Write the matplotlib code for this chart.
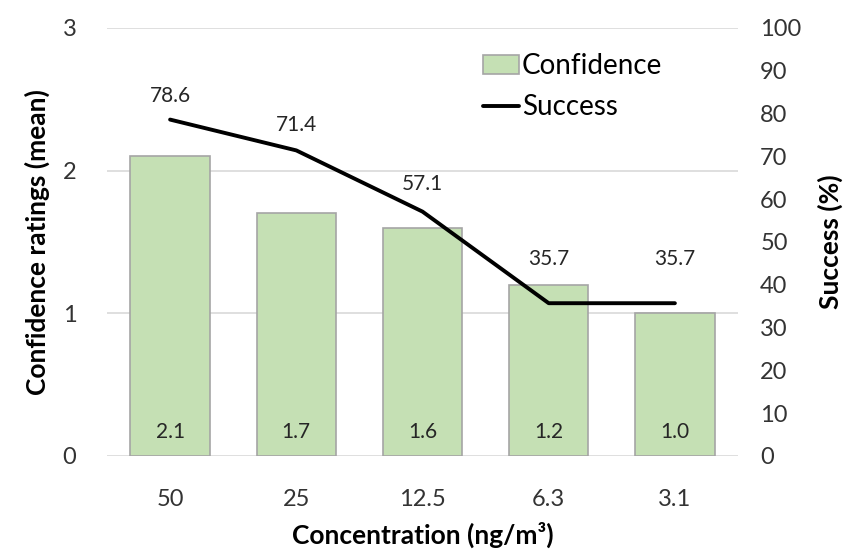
import matplotlib
matplotlib.use("Agg")
import matplotlib.pyplot as plt
import numpy as np

plt.rcParams['font.family'] = ['Lato', 'DejaVu Sans']

categories = ["50", "25", "12.5", "6.3", "3.1"]
confidence = [2.1, 1.7, 1.6, 1.2, 1.0]
success = [78.6, 71.4, 57.1, 35.7, 35.7]
# label offsets above line points (points) - styling only
label_offsets = [17, 18, 20, 32, 32]

fig = plt.figure(figsize=(8.45, 5.49), dpi=100)
ax = fig.add_axes([107/845, 93/549, (738-107)/845, (456-28)/549])
ax2 = ax.twinx()

x = np.arange(len(categories))
bars = ax.bar(x, confidence, width=0.63, color="#C5E0B4", edgecolor="#A5A5A5",
              linewidth=1.2, label="Confidence", zorder=3)
ax.set_ylim(0, 3)
ax.set_xlim(-0.5, len(categories) - 0.5)
ax.set_yticks([0, 1, 2, 3])
ax.yaxis.grid(True, color="#D9D9D9", linewidth=1.2, zorder=0)
ax.set_axisbelow(True)
ax.set_xticks(x)
ax.set_xticklabels(categories)
for s in ax.spines.values():
    s.set_visible(False)
for s in ax2.spines.values():
    s.set_visible(False)
ax.tick_params(axis='both', length=0, labelsize=17, colors="#333333")
ax.tick_params(axis='x', pad=24)
ax.tick_params(axis='y', pad=22)

for xi, v in zip(x, confidence):
    ax.text(xi, 0.17, f"{v:.1f}", ha='center', va='center', fontsize=15, color="#262626", zorder=4)

line, = ax2.plot(x, success, color="black", linewidth=2.8, label="Success", zorder=5,
                 solid_capstyle='round')
ax2.set_ylim(0, 100)
ax2.set_yticks(np.arange(0, 101, 10))
ax2.tick_params(axis='y', length=0, labelsize=17, colors="#333333", pad=16)
for xi, v, off in zip(x, success, label_offsets):
    ax2.annotate(f"{v:.1f}", (xi, v), xytext=(0, off), textcoords='offset points',
                 ha='center', va='center', fontsize=15, color="#262626")

ax.set_ylabel("Confidence ratings (mean)", fontsize=19, fontweight='bold', labelpad=9)
ax2.set_ylabel("Success (%)", fontsize=19, fontweight='bold', labelpad=12)
ax.set_xlabel("Concentration (ng/m³)", fontsize=19, fontweight='bold', labelpad=8)

leg = fig.legend(handles=[bars, line], labels=["Confidence", "Success"],
                 loc='upper left', bbox_to_anchor=(472/845, 1 - 42/549),
                 frameon=False, fontsize=20, handlelength=1.3, handletextpad=0.1,
                 labelspacing=0.55, borderaxespad=0)

fig.savefig("out.png", dpi=100)
